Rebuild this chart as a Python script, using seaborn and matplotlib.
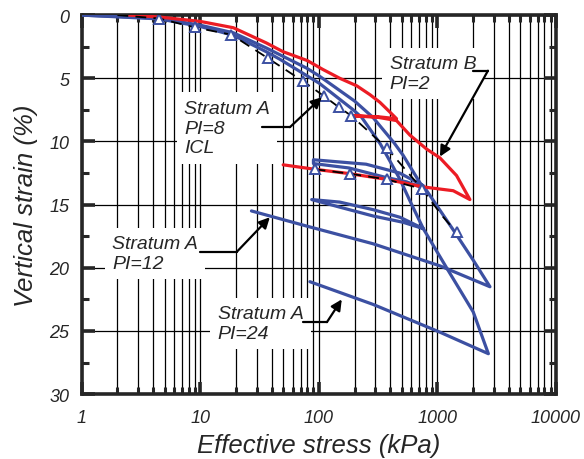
import numpy as np
import pandas as pd
import matplotlib
matplotlib.use("Agg")
import matplotlib.pyplot as plt
import seaborn as sns
from matplotlib.ticker import FixedLocator, FixedFormatter, NullFormatter, MultipleLocator

# ---------------- data ----------------
# Stratum B, PI=2 (red)
red_stress = [2.5, 4.5, 10, 19, 36, 50, 80, 108, 150, 209, 270, 327, 390, 452,
              320, 184, 320, 452, 586, 810, 1050, 1450, 1880,
              1360, 760, 372, 182, 92, 50]
red_strain = [0, 0.15, 0.5, 1.0, 2.2, 2.9, 3.6, 4.3, 5.0, 5.6, 6.3, 6.9, 7.6, 8.2,
              8.05, 7.95, 8.1, 8.35, 9.5, 10.6, 11.3, 12.7, 14.6,
              13.9, 13.6, 13.0, 12.55, 12.2, 11.85]

# Stratum A, PI=12 (blue)
a12_stress = [1, 4.5, 10, 19, 36, 79, 100, 200, 286, 430, 514, 760,
              550, 350, 180, 90,
              90, 250, 480, 760,
              1360, 2006, 2775,
              1052, 287, 79, 27]
a12_strain = [0, 0.25, 0.8, 1.4, 2.6, 4.2, 4.8, 6.8, 8.1, 10.1, 11.1, 13.7,
              13.2, 12.8, 12.1, 11.75,
              11.45, 11.8, 12.5, 13.5,
              17.0, 19.4, 21.5,
              19.85, 18.1, 16.7, 15.5]

# Stratum A, PI=24 (blue)
a24_stress = [1, 4.5, 10, 19, 36, 47, 101, 195, 230, 330, 400, 483, 600, 760,
              514, 287, 150, 87,
              150, 287, 483, 760,
              1195, 2006, 2690,
              1052, 287, 84]
a24_strain = [0, 0.3, 0.9, 1.6, 2.9, 3.5, 5.4, 7.5, 8.1, 10.2, 11.6, 13.0, 14.9, 16.9,
              16.4, 15.9, 15.2, 14.6,
              14.8, 15.4, 16.0, 16.9,
              20.0, 23.5, 26.8,
              25.1, 22.9, 21.1]

# Stratum A, PI=8, ICL (dashed with triangles)
icl_stress = [2, 4.5, 9, 18.3, 37, 74, 110, 148, 188, 377, 740, 1100, 1450]
icl_strain = [0, 0.27, 0.98, 1.55, 3.4, 5.25, 6.4, 7.3, 7.97, 10.55, 13.75, 15.9, 17.2]
icl_marked = [1, 2, 3, 4, 5, 6, 7, 8, 9, 10, 12]

icl2_stress = [92, 182, 372, 740]
icl2_strain = [12.2, 12.55, 13.0, 13.75]

x_ticks = [1, 10, 100, 1000, 10000]
x_labels = ["1", "10", "100", "1000", "10000"]
y_ticks = [0, 5, 10, 15, 20, 25, 30]
y_labels = ["0", "5", "10", "15", "20", "25", "30"]

BLUE = "#3c50a2"
RED = "#ec1c24"

# ---------------- style ----------------
sns.set_style("ticks")
plt.rcParams["font.family"] = ["Liberation Sans", "DejaVu Sans"]
plt.rcParams["font.style"] = "italic"

fig = plt.figure(figsize=(5.84, 4.6), dpi=100)
ax = fig.add_axes([0.140, 0.141, 0.812, 0.824])


def draw(xs, ys, color, lw=2.3, z=5, **kw):
    df = pd.DataFrame({"stress": xs, "strain": ys})
    sns.lineplot(data=df, x="stress", y="strain", sort=False, estimator=None,
                 color=color, lw=lw, ax=ax, zorder=z, **kw)


draw(a24_stress, a24_strain, BLUE)
draw(a12_stress, a12_strain, BLUE)
draw(red_stress, red_strain, RED)
draw(icl_stress, icl_strain, "black", lw=1.3, z=6, linestyle=(0, (6, 4)),
     marker="^", markevery=icl_marked, markersize=6.5, mfc="white",
     mec=BLUE, markeredgewidth=1.4)
draw(icl2_stress, icl2_strain, "black", lw=1.3, z=6, linestyle=(0, (6, 4)),
     marker="^", markersize=6.5, mfc="white", mec=BLUE, markeredgewidth=1.4)

ax.set_xscale("log")
ax.set_xlim(1, 10000)
ax.set_ylim(30, 0)

ax.xaxis.set_major_locator(FixedLocator(x_ticks))
ax.xaxis.set_major_formatter(FixedFormatter(x_labels))
minor_x = [m * 10 ** d for d in range(0, 4) for m in range(2, 10)]
ax.xaxis.set_minor_locator(FixedLocator(minor_x))
ax.xaxis.set_minor_formatter(NullFormatter())
ax.yaxis.set_major_locator(FixedLocator(y_ticks))
ax.yaxis.set_major_formatter(FixedFormatter(y_labels))
ax.yaxis.set_minor_locator(MultipleLocator(2.5))

ax.grid(which="both", axis="x", color="black", lw=0.9, zorder=0)
ax.grid(which="major", axis="y", color="black", lw=0.9, zorder=0)
ax.set_axisbelow(True)

for s in ax.spines.values():
    s.set_linewidth(2.6)
    s.set_visible(True)

ax.tick_params(which="major", direction="in", top=True, right=True,
               length=9, width=2.6, labelsize=13, pad=9)
ax.tick_params(which="minor", direction="in", top=True, right=True,
               length=5, width=2.2)
ax.tick_params(axis="x", which="major", pad=11)

ax.set_xlabel("Effective stress (kPa)", fontsize=18.5, labelpad=5)
ax.set_ylabel("Vertical strain (%)", fontsize=18.5, labelpad=8)

# ---------------- annotations ----------------
box = dict(boxstyle="square,pad=0.38", fc="white", ec="none")
tfs = 14
arrow = dict(arrowstyle="-|>", color="black", lw=1.6, mutation_scale=16,
             shrinkA=0, shrinkB=0)


def label(txt, xy, hx1, hx2, hy, tip):
    ax.text(xy[0], xy[1], txt, fontsize=tfs, ha="left", va="top",
            linespacing=1.22, bbox=box, zorder=3)
    ax.plot([hx1, hx2], [hy, hy], color="black", lw=1.6, zorder=7)
    ax.annotate("", xy=tip, xytext=(hx2, hy), arrowprops=arrow, zorder=7)


label("Stratum B\nPI=2", (395, 3.15), 1993, 2669, 4.4, (1050, 11.2))
label("Stratum A\nPI=8\nICL", (7.3, 6.7), 33, 57, 8.87, (106, 6.5))
label("Stratum A\nPI=12", (1.8, 17.4), 9.9, 20.3, 18.74, (38.6, 16.0))
label("Stratum A\nPI=24", (14, 22.95), 73, 117, 24.3, (156, 22.5))

fig.savefig("out.png", dpi=100)
